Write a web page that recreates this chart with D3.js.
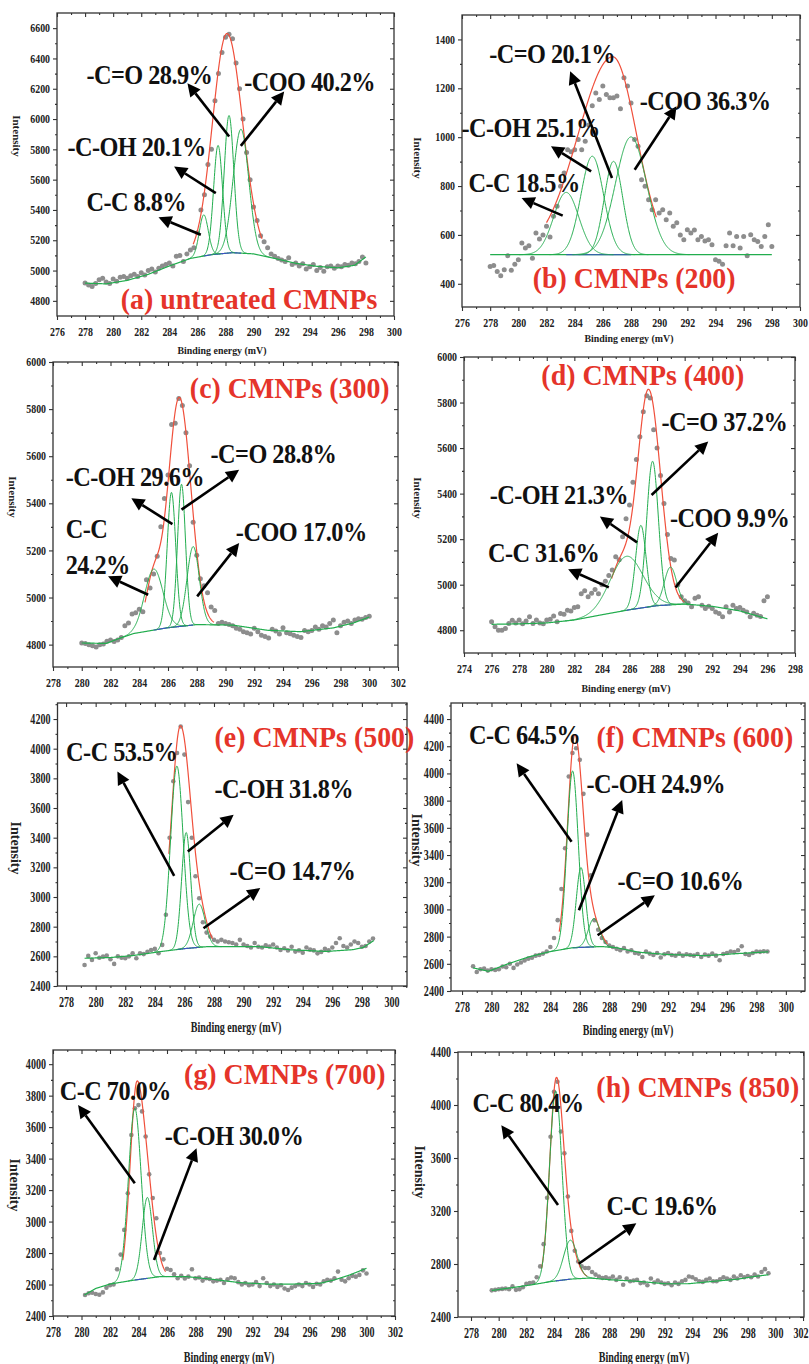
<!DOCTYPE html>
<html>
<head>
<meta charset="utf-8">
<script src="https://cdn.jsdelivr.net/npm/d3@7/dist/d3.min.js"></script>
<style>
  body { margin: 0; background: #fff; }
  svg text { font-family: "Liberation Serif", "Times New Roman", serif; font-weight: bold; }
</style>
</head>
<body>
<svg id="fig" width="809" height="1364"></svg>
<script>
// energy step of the measured points (eV)
var STEP = 0.25;

// ---- (a) untreated ----
var startA = 278;
var dotsA = [4917,4905,4895,4915,4940,4950,4925,4915,4945,4930,
  4955,4960,4950,4965,4975,4960,4985,4970,5000,5010,
  4990,5015,5030,5040,5050,5030,5095,5100,5060,5110,
  5135,5150,5250,5400,5500,5700,5800,6120,6300,6440,
  6540,6560,6530,6370,6200,6000,5780,5600,5420,5330,
  5230,5190,5150,5110,5095,5080,5070,5060,5085,5040,
  5050,5030,5045,5010,5025,5040,5000,5020,4995,5025,
  5030,5015,5030,5025,5040,5035,5050,5045,5060,5090,
  5050];
var bgA = [[278,4917],[279.5,4912],[281,4935],[282.5,4975],[284,5030],[285.5,5080],[287,5105],[288.5,5118],[290,5110],[291.5,5080],[293,5048],[294.5,5028],[296,5018],[297.2,5035],[298,5090]];
var peaksA = [[286.45,272,0.75],[287.47,717,0.75],[288.25,908,0.8],[289.1,818,1.3]];
var envA = [[288.1,1450,1.2,1.3]];
var envRangeA = [285.7, 290.6];
var labelsA = [["-C=O 28.9%",278.1,6232],["-COO 40.2%",289.33,6188],["-C-OH 20.1%",276.74,5757],["C-C 8.8%",278.1,5396]];
var arrowsA = [[288.26,5885,285.29,6237],[289.09,5823,292.18,6182],[287.31,5511,284.34,5687],[286.24,5236,283.23,5352]];
var titleA = ["(a) untreated CMNPs",280.54,4745];
var xTicksA = [276,278,280,282,284,286,288,290,292,294,296,298,300];
var yTicksA = [4800,5000,5200,5400,5600,5800,6000,6200,6400,6600];

// ---- (b) 200 ----
var startB = 278;
var dotsB = [471,475,450,433,457,515,455,480,498,567,
  546,556,505,608,583,600,635,591,676,717,
  799,853,949,940,949,990,949,983,1050,1129,
  1181,1154,1209,1175,1161,1161,1168,1116,1243,1209,
  1140,990,963,826,799,744,703,744,690,703,
  662,690,635,650,600,580,621,608,620,580,
  594,575,580,560,498,492,480,556,608,556,
  594,546,594,515,601,580,573,553,594,642,
  553];
var bgB = [[278,519],[298,519]];
var peaksB = [[283.4,255,2.1],[285.25,403,1.9],[286.76,382,1.55],[288.0,482,2.6]];
var envB = [[286.7,810,2.9,2.0]];
var envRangeB = [282.0, 289.8];
var labelsB = [["-C=O 20.1%",277.93,1304],["-COO 36.3%",288.62,1113],["-C-OH 25.1%",275.96,1001],["C-C 18.5%",276.46,774]];
var arrowsB = [[286.65,833,283.68,1270],[288.26,867,291.23,1127],[285.17,860,282.32,963],[283.15,679,280.23,751]];
var titleB = ["(b) CMNPs (200)",281.02,382];
var xTicksB = [276,278,280,282,284,286,288,290,292,294,296,298,300];
var yTicksB = [400,600,800,1000,1200,1400];

// ---- (c) 300 ----
var startC = 280;
var dotsC = [4807,4805,4800,4795,4790,4800,4803,4814,4820,4813,
  4820,4830,4880,4892,4930,4935,4950,4940,5075,5040,
  5100,5175,5300,5420,5520,5735,5740,5845,5815,5700,
  5560,5320,5180,5080,5050,5020,4960,4945,4890,4895,
  4890,4885,4880,4870,4865,4855,4850,4845,4870,4855,
  4840,4835,4828,4865,4858,4845,4872,4850,4846,4840,
  4835,4830,4860,4855,4860,4875,4865,4880,4875,4890,
  4905,4850,4880,4895,4900,4890,4905,4910,4908,4915,
  4920];
var bgC = [[280,4807],[281.7,4805],[282.6,4826],[283.6,4847],[285.9,4871],[288,4885],[290.5,4883],[292.9,4861],[295.2,4855],[297.5,4871],[298.9,4892],[300,4917]];
var peaksC = [[285.01,259,1.5],[286.24,573,0.7],[286.94,603,0.65],[287.75,333,1.0]];
var envC = [[286.78,973,0.92,0.95],[284.95,205,0.6,0.6]];
var envRangeC = [284.4, 289.2];
var labelsC = [["-C=O 28.8%",288.96,5571],["-C-OH 29.6%",278.88,5472],["C-C",278.88,5252],["24.2%",278.88,5101],["-COO 17.0%",290.72,5238]];
var arrowsC = [[286.31,5312,283.45,5422],[286.94,5373,290.95,5542],[284.62,5012,281.83,5090],[288.03,5005,290.95,5231]];
var titleC = ["(c) CMNPs (300)",287.52,5846];
var xTicksC = [278,280,282,284,286,288,290,292,294,296,298,300,302];
var yTicksC = [4800,5000,5200,5400,5600,5800,6000];

// ---- (d) 400 ----
var startD = 276;
var dotsD = [4837,4815,4800,4800,4808,4830,4844,4832,4845,4828,
  4840,4859,4830,4845,4832,4828,4845,4848,4862,4837,
  4873,4870,4888,4885,4900,4903,4960,4973,4947,4962,
  4979,4960,5000,5015,5040,5064,5123,5110,5211,5290,
  5350,5450,5550,5650,5760,5830,5820,5680,5600,5480,
  5357,5220,5115,5108,5000,4947,4930,4920,4903,4940,
  4947,4910,4895,4905,4895,4880,4873,4859,4903,4880,
  4910,4895,4900,4888,4880,4859,4875,4866,4860,4930,
  4947];
var bgD = [[276,4826],[278,4828],[280,4832],[282,4845],[284,4868],[286,4890],[288,4908],[290,4915],[292,4905],[294,4885],[296,4850]];
var peaksD = [[285.78,237,2.8],[286.82,363,0.9],[287.67,637,1.0],[288.97,166,1.05]];
var envD = [[287.38,951,0.96,1.02],[285.3,200,0.9,0.9]];
var envRangeD = [284.7, 290.0];
var labelsD = [["-C=O 37.2%",288.32,5673],["-C-OH 21.3%",275.86,5354],["-COO 9.9%",288.93,5252],["C-C 31.6%",275.74,5098]];
var arrowsD = [[287.6,5394,291.71,5629],[286.55,5186,283.85,5299],[289.34,4988,292.43,5228],[284.5,4988,281.55,5068]];
var titleD = ["(d) CMNPs (400)",279.61,5878];
var xTicksD = [274,276,278,280,282,284,286,288,290,292,294,296,298];
var yTicksD = [4800,5000,5200,5400,5600,5800,6000];

// ---- (e) 500 ----
var startE = 279.25;
var dotsE = [2542,2603,2576,2621,2590,2598,2605,2580,2549,2600,
  2590,2587,2600,2620,2587,2620,2615,2630,2643,2650,
  2621,2677,2880,3400,3780,3971,4150,3960,3640,3400,
  3140,2992,2830,2760,2733,2711,2700,2711,2700,2695,
  2690,2680,2711,2680,2670,2660,2690,2665,2660,2675,
  2666,2680,2660,2643,2655,2640,2665,2632,2640,2625,
  2660,2645,2640,2620,2630,2650,2640,2660,2690,2722,
  2670,2660,2680,2700,2690,2665,2670,2700,2720];
var bgE = [[279.25,2587],[281,2592],[282.5,2605],[284.4,2632],[286,2652],[287.5,2665],[291,2666],[293.2,2644],[295.6,2633],[297.4,2645],[298.1,2660],[298.8,2706]];
var peaksE = [[285.49,1237,1.0],[286.12,782,0.72],[287.0,291,0.95]];
var envE = [[285.73,1505,0.71,0.86],[287.2,110,0.55,0.55]];
var envRangeE = [284.95, 287.9];
var labelsE = [["C-C 53.5%",278.0,3915],["-C-OH 31.8%",288.04,3667],["-C=O 14.7%",289.05,3116]];
var arrowsE = [[285.31,3143,281.47,3847],[286.23,3307,289.33,3555],[287.29,2789,291.13,3060]];
var titleE = ["(e) CMNPs (500)",288.04,4012];
var xTicksE = [278,280,282,284,286,288,290,292,294,296,298,300];
var yTicksE = [2400,2600,2800,3000,3200,3400,3600,3800,4000,4200];

// ---- (f) 600 ----
var startF = 278.75;
var dotsF = [2582,2540,2560,2565,2550,2560,2555,2560,2580,2575,
  2600,2570,2595,2610,2625,2638,2645,2660,2665,2675,
  2690,2724,2790,2921,3150,3450,3977,4150,4185,4100,
  3850,3550,3250,2920,2850,2790,2760,2735,2724,2710,
  2700,2715,2690,2700,2680,2675,2650,2690,2675,2665,
  2680,2646,2670,2680,2665,2660,2675,2660,2670,2665,
  2660,2672,2650,2668,2660,2675,2660,2626,2672,2680,
  2690,2686,2700,2729,2672,2665,2680,2690,2688,2692,
  2690];
var bgF = [[278.75,2570],[279.8,2545],[281,2595],[282.5,2650],[284,2690],[285.5,2718],[287.5,2727],[288.5,2718],[290,2685],[292,2668],[294.5,2660],[296.7,2675],[298.8,2688]];
var peaksF = [[285.51,1300,0.9],[286.08,587,0.75],[286.96,208,0.9]];
var envF = [[285.67,1566,0.57,0.68],[287.0,140,0.5,0.55]];
var envRangeF = [284.6, 287.9];
var labelsF = [["C-C 64.5%",278.47,4217],["-C-OH 24.9%",286.46,3854],["-C=O 10.6%",288.56,3142]];
var arrowsF = [[285.44,3498,281.71,4075],[285.94,2994,288.88,3805],[287.21,2810,291.1,3105]];
var titleF = ["(f) CMNPs (600)",287.14,4193];
var xTicksF = [278,280,282,284,286,288,290,292,294,296,298,300];
var yTicksF = [2400,2600,2800,3000,3200,3400,3600,3800,4000,4200,4400];

// ---- (g) 700 ----
var startG = 280.25;
var dotsG = [2533,2545,2548,2540,2535,2550,2580,2595,2600,2697,
  2790,2947,3180,3550,3720,3740,3700,3540,3300,3150,
  3021,2800,2760,2700,2692,2665,2640,2655,2639,2650,
  2697,2640,2645,2625,2640,2635,2620,2625,2630,2610,
  2633,2645,2640,2615,2600,2610,2595,2600,2615,2590,
  2640,2610,2590,2600,2585,2595,2575,2565,2580,2590,
  2600,2590,2610,2600,2585,2605,2600,2620,2630,2625,
  2640,2682,2630,2620,2640,2655,2650,2661,2690,2670];
var bgG = [[280.2,2533],[281,2575],[282,2603],[283.7,2628],[285.5,2650],[287.4,2650],[289.2,2633],[291.1,2612],[293,2603],[294.8,2603],[296.7,2607],[297.7,2628],[298.8,2660],[300,2703]];
var peaksG = [[283.74,1090,1.05],[284.62,514,0.85]];
var envG = [[283.9,1258,0.56,0.77],[284.9,140,0.45,0.6]];
var envRangeG = [282.9, 285.9];
var labelsG = [["C-C 70.0%",278.47,3773],["-C-OH 30.0%",285.84,3487]];
var arrowsG = [[283.74,3243,279.76,3741],[285.09,2756,288.07,3466]];
var titleG = ["(g) CMNPs (700)",287.2,3875];
var xTicksG = [278,280,282,284,286,288,290,292,294,296,298,300,302];
var yTicksG = [2400,2600,2800,3000,3200,3400,3600,3800,4000];

// ---- (h) 850 ----
var startH = 279.5;
var dotsH = [2601,2605,2610,2612,2615,2610,2631,2605,2610,2625,
  2650,2656,2660,2700,2782,2950,3300,3760,4100,4175,
  3800,3635,3309,3050,2900,2819,2782,2770,2769,2740,
  2720,2706,2694,2700,2690,2705,2680,2700,2643,2690,
  2670,2675,2680,2656,2660,2640,2690,2660,2675,2660,
  2650,2655,2640,2660,2650,2670,2680,2706,2700,2685,
  2670,2665,2680,2690,2670,2670,2685,2700,2690,2680,
  2705,2690,2715,2700,2710,2700,2720,2706,2740,2761,
  2730];
var bgH = [[279.5,2600],[281.2,2625],[282.4,2643],[283.8,2668],[285.2,2686],[286.6,2694],[288.1,2681],[290.1,2669],[292,2651],[293.7,2651],[295.4,2668],[297.3,2686],[298.5,2706],[299.5,2719]];
var peaksH = [[284.12,1432,1.05],[285.18,294,1.15]];
var envH = [[284.17,1527,0.55,0.65],[285.3,150,0.55,0.6]];
var envRangeH = [283.1, 286.4];
var labelsH = [["C-C 80.4%",278.1,3949],["C-C 19.6%",287.79,3171]];
var arrowsH = [[284.29,3246,280.19,3848],[285.79,2802,289.95,3108]];
var titleH = ["(h) CMNPs (850)",287.06,4062];
var xTicksH = [278,280,282,284,286,288,290,292,294,296,298,300,302];
var yTicksH = [2400,2800,3200,3600,4000,4400];

// panel layout (pixels) + links to the data above
var panels = [
  {frame:{l:57,r:394,t:13,b:316}, xd:[276,300], yd:[4700,6700], xt:xTicksA, yt:yTicksA, start:startA, dots:dotsA, bg:bgA, peaks:peaksA, env:envA, envRange:envRangeA, labels:labelsA, arrows:arrowsA, title:titleA, big:false, xLab:[222,350], yLab:[17,136]},
  {frame:{l:462,r:800,t:15,b:307}, xd:[276,300], yd:[305,1500], xt:xTicksB, yt:yTicksB, start:startB, dots:dotsB, bg:bgB, peaks:peaksB, env:envB, envRange:envRangeB, labels:labelsB, arrows:arrowsB, title:titleB, big:false, xLab:[629,338], yLab:[418,158]},
  {frame:{l:53,r:398,t:362,b:667}, xd:[278,302], yd:[4705,6000], xt:xTicksC, yt:yTicksC, start:startC, dots:dotsC, bg:bgC, peaks:peaksC, env:envC, envRange:envRangeC, labels:labelsC, arrows:arrowsC, title:titleC, big:false, xLab:null, yLab:[13,497]},
  {frame:{l:464,r:795,t:357,b:653}, xd:[274,298], yd:[4700,6000], xt:xTicksD, yt:yTicksD, start:startD, dots:dotsD, bg:bgD, peaks:peaksD, env:envD, envRange:envRangeD, labels:labelsD, arrows:arrowsD, title:titleD, big:false, xLab:[626,688], yLab:[418,498]},
  {frame:{l:57.5,r:407,t:703,b:986}, xd:[277.42,301.05], yd:[2400,4308], xt:xTicksE, yt:yTicksE, start:startE, dots:dotsE, bg:bgE, peaks:peaksE, env:envE, envRange:envRangeE, labels:labelsE, arrows:arrowsE, title:titleE, big:true, xLab:[236,1027], yLab:[16,848]},
  {frame:{l:451,r:805,t:703,b:991}, xd:[277.25,301.3], yd:[2400,4518], xt:xTicksF, yt:yTicksF, start:startF, dots:dotsF, bg:bgF, peaks:peaksF, env:envF, envRange:envRangeF, labels:labelsF, arrows:arrowsF, title:titleF, big:true, xLab:[628,1030], yLab:[417,840]},
  {frame:{l:53,r:395,t:1050,b:1316}, xd:[278,302], yd:[2400,4090], xt:xTicksG, yt:yTicksG, start:startG, dots:dotsG, bg:bgG, peaks:peaksG, env:envG, envRange:envRangeG, labels:labelsG, arrows:arrowsG, title:titleG, big:true, xLab:[229,1357], yLab:[15,1185]},
  {frame:{l:458,r:804,t:1052,b:1317}, xd:[277.06,302.07], yd:[2400,4400], xt:xTicksH, yt:yTicksH, start:startH, dots:dotsH, bg:bgH, peaks:peaksH, env:envH, envRange:envRangeH, labels:labelsH, arrows:arrowsH, title:titleH, big:true, xLab:[644,1357], yLab:[420,1172]}
];

var svg = d3.select("#fig");
var LN2 = Math.LN2;
var AXIS = "#333";
var W_SVG = 809;

panels.forEach(drawPanel);

function minorTicks(ticks, dom) {
  var s = ticks[1] - ticks[0], out = [];
  for (var i = -1; i < ticks.length; i++) {
    var m = ticks[0] + (i + 0.5) * s;
    if (m > dom[0] && m < dom[1]) out.push(m);
  }
  return out;
}

function samples(a, b) {
  var n = Math.ceil((b - a) / 0.02), out = [];
  for (var i = 0; i <= n; i++) out.push(a + (b - a) * i / n);
  return out;
}

function drawPanel(p) {
  var f = p.frame;
  var x = d3.scaleLinear().domain(p.xd).range([f.l, f.r]);
  var y = d3.scaleLinear().domain(p.yd).range([f.b, f.t]);
  var g = svg.append("g");
  var base = d3.scaleLinear().domain(p.bg.map(function(d){ return d[0]; }))
                             .range(p.bg.map(function(d){ return d[1]; })).clamp(true);
  var line = d3.line().x(function(d){ return x(d[0]); }).y(function(d){ return y(d[1]); });
  var bLo = p.bg[0][0], bHi = p.bg[p.bg.length - 1][0];

  // measured points
  g.selectAll("circle").data(p.dots).enter().append("circle")
    .attr("cx", function(d, i){ return x(p.start + i * STEP); })
    .attr("cy", function(d){ return y(d); })
    .attr("r", p.big ? 2.3 : 2.5)
    .attr("fill", "#8d8d8d");

  // envelope (red)
  function envVal(t) {
    return base(t) + d3.sum(p.env, function(e){
      var hw = t < e[0] ? e[2] : e[3];
      return e[1] * Math.exp(-LN2 * Math.pow((t - e[0]) / hw, 2));
    });
  }
  g.append("path")
    .attr("d", line(samples(p.envRange[0], p.envRange[1]).map(function(t){ return [t, envVal(t)]; })))
    .attr("fill", "none").attr("stroke", "#f0503c").attr("stroke-width", 1.2);

  // background (green) and the part under the peaks (blue)
  g.append("path")
    .attr("d", line(samples(bLo, bHi).map(function(t){ return [t, base(t)]; })))
    .attr("fill", "none").attr("stroke", "#22ad4e").attr("stroke-width", 1.2);
  var cs = p.peaks.map(function(q){ return q[0]; });
  g.append("path")
    .attr("d", line(samples(d3.min(cs), d3.max(cs)).map(function(t){ return [t, base(t)]; })))
    .attr("fill", "none").attr("stroke", "#3d4fc4").attr("stroke-width", 1.1);

  // fitted components (green)
  p.peaks.forEach(function(q){
    var lo = Math.max(bLo, q[0] - 1.6 * q[2]), hi = Math.min(bHi, q[0] + 1.6 * q[2]);
    var pts = samples(lo, hi).map(function(t){
      return [t, base(t) + q[1] * Math.exp(-4 * LN2 * Math.pow((t - q[0]) / q[2], 2))];
    });
    g.append("path").attr("d", line(pts))
      .attr("fill", "none").attr("stroke", "#22ad4e").attr("stroke-width", 1);
  });

  // axes
  var fs = p.big ? 14 : 11.5, sx = p.big ? 0.72 : 0.86;
  var xm = minorTicks(p.xt, p.xd), ym = minorTicks(p.yt, p.yd);

  function styleAxis(sel) {
    sel.select(".domain").remove();
    sel.selectAll("line").attr("stroke", AXIS).attr("stroke-width", 1.1);
    sel.attr("font-family", null).attr("font-size", null);
  }

  var gb = g.append("g").attr("transform", "translate(0," + f.b + ")")
    .call(d3.axisBottom(x).tickValues(p.xt).tickSize(4).tickPadding(p.big ? 7 : 8).tickFormat(d3.format("d")))
    .call(styleAxis);
  gb.selectAll("text").attr("font-size", fs).attr("fill", "#222")
    .attr("transform", "scale(" + sx + ",1)");
  // keep the last tick label inside the page
  gb.selectAll(".tick").each(function(d){
    var half = fs * 0.75 * sx;
    var over = x(d) + half - (W_SVG - 1);
    if (over > 0) d3.select(this).select("text").attr("x", -over / sx);
  });
  g.append("g").attr("transform", "translate(0," + f.b + ")")
    .call(d3.axisBottom(x).tickValues(xm).tickSize(2).tickFormat("")).call(styleAxis);

  var gl = g.append("g").attr("transform", "translate(" + f.l + ",0)")
    .call(d3.axisLeft(y).tickValues(p.yt).tickSize(4).tickPadding(3).tickFormat(d3.format("d")))
    .call(styleAxis);
  gl.selectAll("text").attr("font-size", fs).attr("fill", "#222")
    .attr("x", -7 / sx).attr("transform", "scale(" + sx + ",1)");
  g.append("g").attr("transform", "translate(" + f.l + ",0)")
    .call(d3.axisLeft(y).tickValues(ym).tickSize(2).tickFormat("")).call(styleAxis);

  // mirrored ticks on top and right, pointing inwards
  g.append("g").attr("transform", "translate(0," + f.t + ")")
    .call(d3.axisTop(x).tickValues(p.xt).tickSize(-4).tickFormat("")).call(styleAxis);
  g.append("g").attr("transform", "translate(0," + f.t + ")")
    .call(d3.axisTop(x).tickValues(xm).tickSize(-2).tickFormat("")).call(styleAxis);
  g.append("g").attr("transform", "translate(" + f.r + ",0)")
    .call(d3.axisRight(y).tickValues(p.yt).tickSize(-4).tickFormat("")).call(styleAxis);
  g.append("g").attr("transform", "translate(" + f.r + ",0)")
    .call(d3.axisRight(y).tickValues(ym).tickSize(-2).tickFormat("")).call(styleAxis);

  g.append("rect").attr("x", f.l).attr("y", f.t)
    .attr("width", f.r - f.l).attr("height", f.b - f.t)
    .attr("fill", "none").attr("stroke", AXIS).attr("stroke-width", 1.3);

  // axis titles
  if (p.xLab) {
    g.append("text").attr("transform", "translate(" + p.xLab[0] + "," + p.xLab[1] + ") scale(" + (p.big ? 0.72 : 0.9) + ",1)")
      .attr("text-anchor", "middle").attr("dy", "0.35em")
      .attr("font-size", p.big ? 14 : 11).attr("fill", "#222")
      .text("Binding energy (mV)");
  }
  g.append("text").attr("transform", "translate(" + p.yLab[0] + "," + p.yLab[1] + ") rotate(90)")
    .attr("text-anchor", "middle").attr("dy", "0.35em")
    .attr("font-size", p.big ? 14 : 11).attr("fill", "#222")
    .text("Intensity");

  // arrows
  p.arrows.forEach(function(a){
    var x1 = x(a[0]), y1 = y(a[1]), x2 = x(a[2]), y2 = y(a[3]);
    var dx = x2 - x1, dy = y2 - y1, len = Math.sqrt(dx * dx + dy * dy);
    var ux = dx / len, uy = dy / len, L = 13, W = 6.5;
    var bx = x2 - ux * L, by = y2 - uy * L;
    g.append("line").attr("x1", x1).attr("y1", y1).attr("x2", bx).attr("y2", by)
      .attr("stroke", "#000").attr("stroke-width", 2.6);
    g.append("polygon")
      .attr("points", [[x2, y2], [bx - uy * W, by + ux * W], [bx + uy * W, by - ux * W]].map(function(q){ return q.join(","); }).join(" "))
      .attr("fill", "#000");
  });

  // peak labels (bold serif, a little condensed)
  p.labels.forEach(function(l){
    g.append("text")
      .attr("transform", "translate(" + x(l[1]) + "," + y(l[2]) + ") scale(0.9,1)")
      .attr("font-size", 27).attr("letter-spacing", "-0.6px").attr("fill", "#111")
      .text(l[0]);
  });

  // panel title
  g.append("text")
    .attr("transform", "translate(" + x(p.title[1]) + "," + y(p.title[2]) + ") scale(0.93,1)")
    .attr("font-size", 30).attr("fill", "#e5342a")
    .text(p.title[0]);
}
</script>
</body>
</html>
